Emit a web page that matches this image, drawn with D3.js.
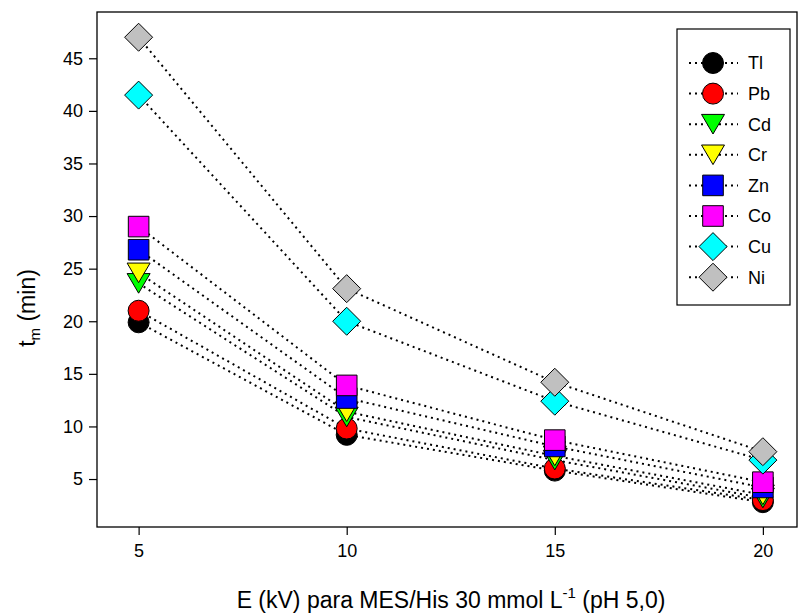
<!DOCTYPE html>
<html>
<head>
<meta charset="utf-8">
<script src="https://cdn.jsdelivr.net/npm/d3@7"></script>
<style>
  html, body { margin: 0; padding: 0; background: #fff; }
  svg { display: block; font-family: "Liberation Sans", Arial, Helvetica, sans-serif; }
</style>
</head>
<body>
<svg id="chart" width="798" height="614"></svg>
<script>
// ---- data ----
const voltages = [5, 10, 15, 20];
const xTicks = [5, 10, 15, 20];
const yTicks = [5, 10, 15, 20, 25, 30, 35, 40, 45];
const seriesNames = ["Tl", "Pb", "Cd", "Cr", "Zn", "Co", "Cu", "Ni"];
const Tl = [19.9, 9.2, 5.8, 2.8];
const Pb = [21.0, 9.8, 6.0, 3.0];
const Cd = [23.6, 10.9, 6.8, 3.2];
const Cr = [24.6, 11.4, 7.2, 3.5];
const Zn = [26.8, 12.7, 8.1, 4.2];
const Co = [29.0, 13.9, 8.7, 4.7];
const Cu = [41.5, 20.0, 12.4, 6.8];
const Ni = [47.0, 23.1, 14.2, 7.6];
const seriesValues = [Tl, Pb, Cd, Cr, Zn, Co, Cu, Ni];
const seriesColors = ["#000000", "#ff0000", "#00ff00", "#ffff00", "#0000ff", "#ff00ff", "#00ffff", "#c0c0c0"];
const seriesShapes = ["circle", "circle", "tri", "tri", "square", "square", "diamond", "diamond"];

// ---- layout ----
const svg = d3.select("#chart");
const L = 97, T = 12, R = 797, B = 527;
const x = d3.scaleLinear().domain([4, 20.82]).range([L, R]);
const y = d3.scaleLinear().domain([0.44, 49.4]).range([B, T]);

// axes
const xAxis = d3.axisBottom(x).tickValues(xTicks).tickSize(8).tickPadding(9).tickFormat(d3.format("d"));
const yAxis = d3.axisLeft(y).tickValues(yTicks).tickSize(8).tickPadding(6).tickFormat(d3.format("d"));
const gx = svg.append("g").attr("transform", `translate(0,${B})`).call(xAxis);
const gy = svg.append("g").attr("transform", `translate(${L},0)`).call(yAxis);
[gx, gy].forEach(g => {
  g.select(".domain").remove();
  g.selectAll("line").attr("stroke", "#000").attr("stroke-width", 1.2);
  g.selectAll("text").attr("font-size", 18).attr("fill", "#000")
    .attr("font-family", '"Liberation Sans", Arial, sans-serif');
});

// frame
svg.append("rect").attr("x", L).attr("y", T).attr("width", R - L).attr("height", B - T)
  .attr("fill", "none").attr("stroke", "#000").attr("stroke-width", 1.3);

// marker path generator
function markerPath(shape) {
  if (shape === "circle") { const r = 10.5; return `M${-r},0A${r},${r} 0 1,0 ${r},0A${r},${r} 0 1,0 ${-r},0Z`; }
  if (shape === "square") { const h = 10.3; return `M${-h},${-h}H${h}V${h}H${-h}Z`; }
  if (shape === "tri") { const w = 11.5, h = 9.8; return `M${-w},${-h}L${w},${-h}L0,${h}Z`; }
  if (shape === "diamond") { const d = 14; return `M0,${-d}L${d},0L0,${d}L${-d},0Z`; }
}

const line = d3.line().x((d, i) => x(voltages[i])).y(d => y(d));

// lines
seriesValues.forEach((vals) => {
  svg.append("path").datum(vals).attr("d", line)
    .attr("fill", "none").attr("stroke", "#000").attr("stroke-width", 2)
    .attr("stroke-dasharray", "2,4");
});
// markers
seriesValues.forEach((vals, s) => {
  svg.append("g").selectAll("path").data(vals).join("path")
    .attr("d", markerPath(seriesShapes[s]))
    .attr("transform", (d, i) => `translate(${x(voltages[i])},${y(d)})`)
    .attr("fill", seriesColors[s]).attr("stroke", "#000").attr("stroke-width", 1);
});

// legend
const lg = svg.append("g");
lg.append("rect").attr("x", 677).attr("y", 29).attr("width", 113).attr("height", 276)
  .attr("fill", "#fff").attr("stroke", "#000").attr("stroke-width", 1.2);
seriesNames.forEach((name, i) => {
  const cy = 63 + i * 30.6;
  lg.append("line").attr("x1", 689).attr("x2", 738).attr("y1", cy).attr("y2", cy)
    .attr("stroke", "#000").attr("stroke-width", 2).attr("stroke-dasharray", "2,4");
  lg.append("path").attr("d", markerPath(seriesShapes[i]))
    .attr("transform", `translate(713,${cy})`)
    .attr("fill", seriesColors[i]).attr("stroke", "#000").attr("stroke-width", 1);
  lg.append("text").attr("x", 748).attr("y", cy).attr("dy", "0.35em")
    .attr("font-size", 18).attr("fill", "#000").text(name);
});

// y title
const yt = svg.append("text").attr("transform", "translate(35,308) rotate(-90)")
  .attr("text-anchor", "middle").attr("font-size", 23).attr("fill", "#000");
yt.append("tspan").text("t");
yt.append("tspan").attr("font-size", 15).attr("dy", 5).text("m");
yt.append("tspan").attr("dy", -5).text(" (min)");

// x title
const xt = svg.append("text").attr("x", 451).attr("y", 608)
  .attr("text-anchor", "middle").attr("font-size", 23).attr("fill", "#000");
xt.append("tspan").text("E (kV) para MES/His 30 mmol L");
xt.append("tspan").attr("font-size", 15).attr("dy", -10).text("-1");
xt.append("tspan").attr("dy", 10).text(" (pH 5,0)");
</script>
</body>
</html>
